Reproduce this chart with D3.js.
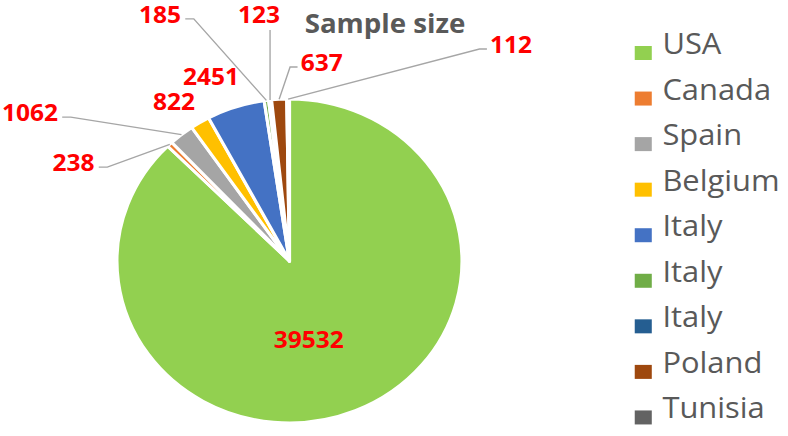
<!DOCTYPE html>
<html>
<head>
<meta charset="utf-8">
<script src="https://cdn.jsdelivr.net/npm/d3@7"></script>
<style>
  html, body { margin: 0; padding: 0; background: #ffffff; }
  svg { display: block; }
</style>
</head>
<body>
<svg id="chart" width="788" height="436"></svg>
<script>
// ---- data ----
const categories = ["USA", "Canada", "Spain", "Belgium", "Italy", "Italy", "Italy", "Poland", "Tunisia"];
const sampleSizes = [39532, 238, 1062, 822, 2451, 185, 123, 637, 112];
const sliceColors = ["#92D050", "#ED7D31", "#A5A5A5", "#FFC000", "#4472C4", "#70AD47", "#255E91", "#9E480E", "#636363"];
const chartTitle = "Sample size";

// ---- layout (label placement relative to slice, leader style) ----
const labelOffsets = [[-12.7, 3.7], [-90.4, 18.7], [-142.3, -21.6], [-24.4, -20.5], [-23.1, -30.1],
                      [-99.9, -85.5], [-10.3, -85], [40, -36.3], [209.4, -54]];
const leaderKinds = ["inside", "fromRight", "fromRight", "none", "none", "fromRight", "below", "fromLeft", "fromLeft"];

const W = 788, H = 436, SX = 1.065;
const cx = 271.8, cy = 261, r = 162;

const svg = d3.select("#chart");
const root = svg.append("g").attr("transform", `scale(${SX},1)`);

const data = categories.map((c, i) => ({ cat: c, value: sampleSizes[i], color: sliceColors[i], idx: i }));
const pie = d3.pie().sort(null).value(d => d.value).startAngle(0).endAngle(2 * Math.PI);
const arcs = pie(data);
const arc = d3.arc().innerRadius(0).outerRadius(r);
const edgeArc = d3.arc().innerRadius(r).outerRadius(r);

const pg = root.append("g").attr("transform", `translate(${cx},${cy})`);
pg.selectAll("path.slice").data(arcs).join("path")
  .attr("class", "slice")
  .attr("d", arc)
  .attr("fill", d => d.data.color)
  .attr("stroke", "#ffffff")
  .attr("stroke-width", 3)
  .attr("stroke-linejoin", "round");

// labels
const labelG = pg.append("g");
const labels = labelG.selectAll("text").data(arcs).join("text")
  .attr("x", d => {
    const base = d.data.idx === 0 ? arc.centroid(d) : edgeArc.centroid(d);
    return base[0] + labelOffsets[d.data.idx][0];
  })
  .attr("y", d => {
    const base = d.data.idx === 0 ? arc.centroid(d) : edgeArc.centroid(d);
    return base[1] + labelOffsets[d.data.idx][1];
  })
  .attr("dy", "0.36em")
  .attr("text-anchor", "middle")
  .attr("font-family", "'Open Sans', sans-serif")
  .attr("font-weight", "bold")
  .attr("font-size", 23)
  .attr("fill", "#FF0000")
  .text(d => d.data.value);

// leader lines
const leaderG = pg.insert("g", "g");
labels.each(function(d) {
  const kind = leaderKinds[d.data.idx];
  if (kind === "inside" || kind === "none") return;
  const bb = this.getBBox();
  const end = edgeArc.centroid(d);
  const ly = +this.getAttribute("y") + 4;
  let pts;
  if (kind === "fromRight") {
    const sx = bb.x + bb.width + 4;
    pts = [[sx, ly], [sx + 8, ly], end];
  } else if (kind === "fromLeft") {
    const sx = bb.x - 3;
    pts = [[sx, ly], [sx - 7, ly], end];
  } else {
    pts = [[end[0], +this.getAttribute("y") + 15], end];
  }
  leaderG.append("path")
    .attr("d", d3.line()(pts))
    .attr("fill", "none")
    .attr("stroke", "#A6A6A6")
    .attr("stroke-width", 1.3);
});

// title
root.append("text")
  .attr("x", 361.5).attr("y", 33)
  .attr("text-anchor", "middle")
  .attr("font-family", "'Open Sans', sans-serif")
  .attr("font-weight", "bold")
  .attr("font-size", 26)
  .attr("fill", "#595959")
  .text(chartTitle);

// legend
const legendY = d3.scaleBand().domain(d3.range(categories.length)).range([22, 432]);
const lg = root.append("g");
const items = lg.selectAll("g").data(data).join("g")
  .attr("transform", d => `translate(596, ${legendY(d.idx) + 32})`);
items.append("rect")
  .attr("x", 0).attr("y", -8).attr("width", 16).attr("height", 14)
  .attr("fill", d => d.color);
items.append("text")
  .attr("x", 26).attr("y", 0)
  .attr("font-family", "'Open Sans', sans-serif")
  .attr("font-size", 29)
  .attr("fill", "#595959")
  .text(d => d.cat);
</script>
</body>
</html>
